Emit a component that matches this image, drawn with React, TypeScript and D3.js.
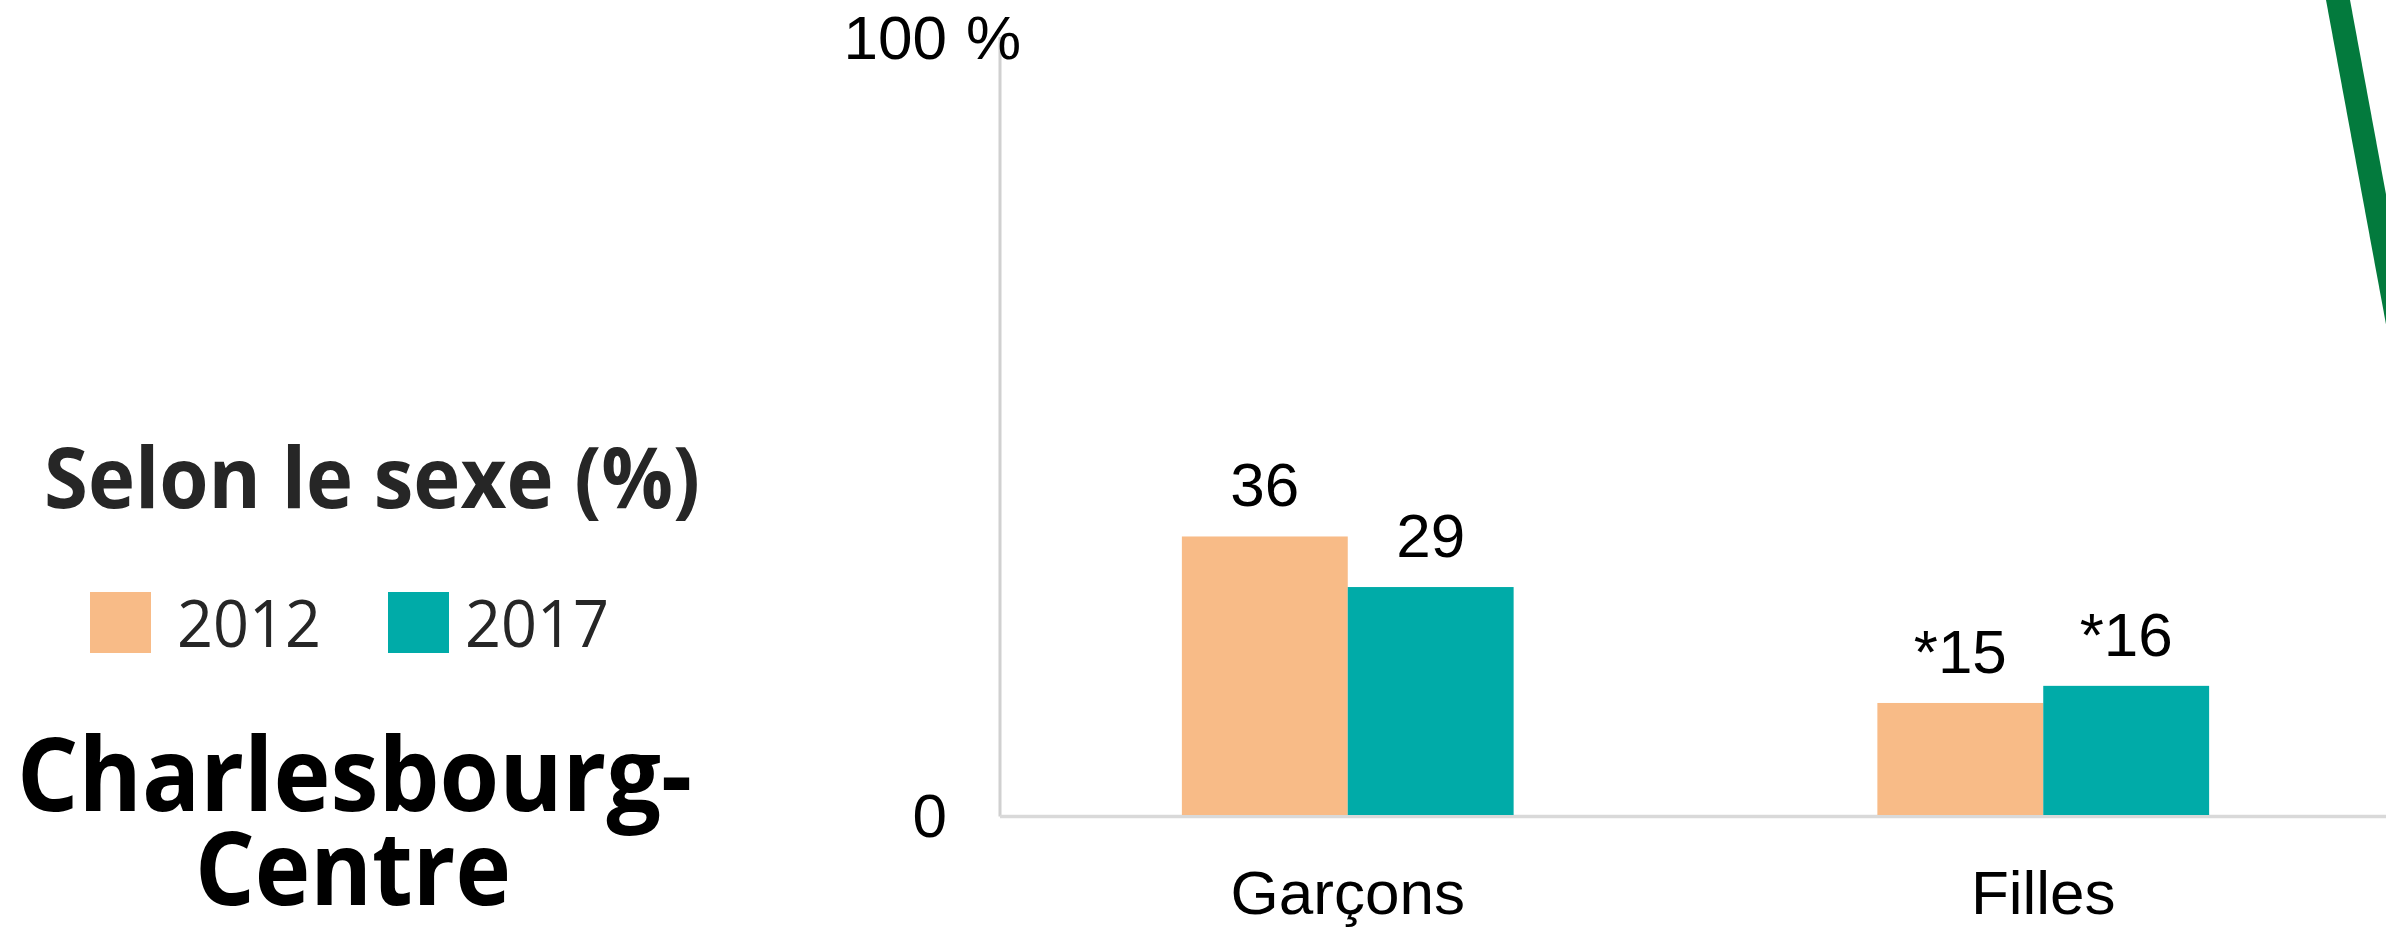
import React from "react";
import * as d3 from "d3";

const categories = ["Garçons", "Filles"];
const years = ["2012", "2017"];
const values2012 = [35.8, 14.4];
const values2017 = [29.3, 16.6];
const labels2012 = ["36", "*15"];
const labels2017 = ["29", "*16"];
const yTicks = [0, 100];
const colors = ["#F8BB87", "#00ABA8"];

const W = 2386;
const H = 927;
const NUM_FONT = "'Liberation Sans', Arial, sans-serif";
const TXT_FONT = "'Open Sans', 'Noto Sans', sans-serif";

export default function App() {
  const x0 = d3
    .scaleBand<string>()
    .domain(categories)
    .range([1000, 2391])
    .paddingInner(0.523)
    .paddingOuter(0.2615);
  const x1 = d3.scaleBand<string>().domain(years).range([0, x0.bandwidth()]).padding(0);
  const y = d3.scaleLinear().domain([0, 100]).range([815, 37]);

  const series = [values2012, values2017];
  const seriesLabels = [labels2012, labels2017];

  const greenLine = d3.line<[number, number]>()([
    [2338 - 0.185 * 40, -40],
    [2338 + 0.185 * 420, 420],
  ]);

  return (
    <svg
      width={W}
      height={H}
      style={{ position: "absolute", left: 0, top: 0, display: "block", background: "#fff" }}
    >
      <rect x={0} y={0} width={W} height={H} fill="#fff" />
      {/* axes */}
      <line x1={1000} x2={1000} y1={y(100)} y2={y(0) + 1.5} stroke="#D0D0D0" strokeWidth={3} />
      <line x1={1000} x2={W} y1={y(0) + 1.5} y2={y(0) + 1.5} stroke="#D9D9D9" strokeWidth={3.5} />
      {yTicks.map((t) => (
        <g key={t}>
          <text
            x={947}
            y={y(t) + 22}
            textAnchor="end"
            fontFamily={NUM_FONT}
            fontSize={62}
            fill="#000"
          >
            {t}
          </text>
          {t === 100 && (
            <text x={966} y={y(t) + 22} fontFamily={NUM_FONT} fontSize={62} fill="#000">
              %
            </text>
          )}
        </g>
      ))}
      {/* bars */}
      {categories.map((c, ci) => (
        <g key={c} transform={`translate(${x0(c)},0)`}>
          {years.map((yr, si) => {
            const v = series[si][ci];
            const bx = x1(yr)!;
            return (
              <g key={yr}>
                <rect
                  x={bx}
                  y={y(v)}
                  width={x1.bandwidth()}
                  height={y(0) - y(v)}
                  fill={colors[si]}
                />
                <text
                  x={bx + x1.bandwidth() / 2}
                  y={y(v) - 30}
                  textAnchor="middle"
                  fontFamily={NUM_FONT}
                  fontSize={62}
                  fill="#000"
                >
                  {seriesLabels[si][ci]}
                </text>
              </g>
            );
          })}
          <text
            x={x0.bandwidth() / 2}
            y={914}
            textAnchor="middle"
            fontFamily={NUM_FONT}
            fontSize={62}
            fill="#000"
          >
            {c}
          </text>
        </g>
      ))}
      {/* decorative green line */}
      <path d={greenLine!} stroke="#037A3D" strokeWidth={23.6} fill="none" />
      {/* left texts */}
      <text
        x={44}
        y={508}
        fontFamily={TXT_FONT}
        fontWeight={700}
        fontSize={85}
        fill="#262626"
        textLength={656}
        lengthAdjust="spacingAndGlyphs"
      >
        Selon le sexe (%)
      </text>
      {years.map((yr, i) => {
        const sx = [90, 388][i];
        const tx = [177, 465][i];
        return (
          <g key={yr}>
            <rect x={sx} y={592} width={61} height={61} fill={colors[i]} />
            <text
              x={tx}
              y={647}
              fontFamily={TXT_FONT}
              fontSize={66}
              fill="#262626"
              textLength={144}
              lengthAdjust="spacingAndGlyphs"
            >
              {yr}
            </text>
          </g>
        );
      })}
      <text
        x={17}
        y={811}
        fontFamily={TXT_FONT}
        fontWeight={700}
        fontSize={103}
        fill="#000"
        textLength={675}
        lengthAdjust="spacingAndGlyphs"
      >
        Charlesbourg-
      </text>
      <text
        x={195}
        y={905}
        fontFamily={TXT_FONT}
        fontWeight={700}
        fontSize={103}
        fill="#000"
        textLength={316}
        lengthAdjust="spacingAndGlyphs"
      >
        Centre
      </text>
    </svg>
  );
}
